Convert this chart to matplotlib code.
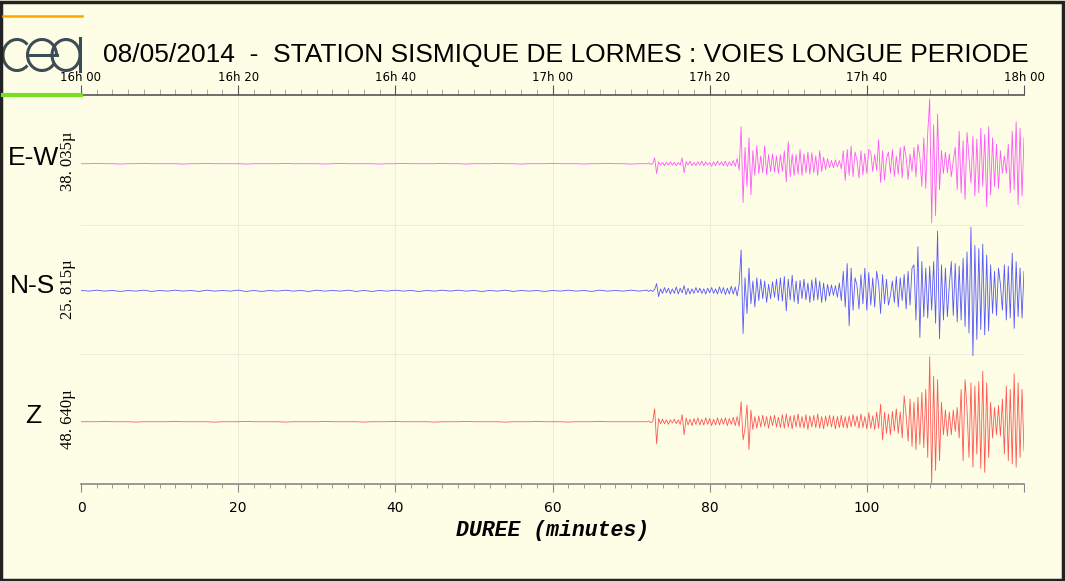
import numpy as np
import matplotlib.pyplot as plt
from matplotlib.patches import Arc, Rectangle

# seismogram amplitudes, in % of half the channel height
# quiet part: one value per minute from 0 to 71 min
quiet_ew = [0, 0, 0.5, 0, 0, -0.5, 0, 0, 0.5, 0, 0, 0,
            0, -0.5, 0, 0, 0.5, 0, 0, 0, 0, -0.5, 0, 0,
            0, 0, 0.5, 0, 0, 0, 0, -0.5, 0, 0.5, 0, 0,
            0, 0, -0.5, 0, 0, 0.5, 0, 0, 0, 0, 0.5, 0,
            0, -0.5, 0, 0, 0, 0.5, 0, 0, -0.5, 0, 0, 0,
            0.5, 0, 0, 0, -0.5, 0, 0, 0.5, 0, 0, -0.5, 0]
quiet_ns = [0.5, -0.5, 1, -0.5, 0.5, -1, 0.5, -0.5, 1, -1, 0.5, -0.5,
            1, -0.5, 0.5, -1, 1, -0.5, 0.5, -0.5, 1, -1, 0.5, -1,
            0.5, -0.5, 1, -0.5, 0.5, -1, 1, -0.5, 0.5, -0.5, 1, -1,
            0.5, -1, 0.5, -0.5, 1, -0.5, 0.5, -1, 0.5, -0.5, 1, -0.5,
            1, -0.5, 0.5, -1, 0.5, -0.5, 1, -1, 0.5, -0.5, 0.5, -1,
            0.5, -0.5, 1, -0.5, 0.5, -1, 1, -0.5, 0.5, -0.5, 1, -0.5]
quiet_z = [0, 0, 0, 0.5, 0, 0, 0, -0.5, 0, 0, 0, 0,
           0.5, 0, 0, 0, 0, -0.5, 0, 0, 0, 0.5, 0, 0,
           0, 0, -0.5, 0, 0, 0, 0, 0.5, 0, 0, 0, 0,
           -0.5, 0, 0, 0, 0.5, 0, 0, 0, 0, -0.5, 0, 0,
           0, 0.5, 0, 0, 0, 0, -0.5, 0, 0, 0, 0.5, 0,
           0, 0, -0.5, 0, 0, 0, 0.5, 0, 0, 0, 0, 0]

# active part: every 15 s from 72 to 120 min (one row = 2 minutes)
active_ew = [0, 1, -1, 0, 9, -15, 3, -2,
             2, -3, 2, -2, 3, -2, 2, -3,
             2, -2, 9, -14, 3, -2, 4, -3,
             2, -3, 3, -2, 4, -3, 3, -2,
             2, -4, 3, -3, 4, -2, 3, -3,
             4, -4, 3, -3, 5, -4, 8, -10,
             57, -60, 25, -35, 40, -48, 20, -18,
             28, -15, 12, -14, 28, -17, 14, -12,
             15, -13, 12, -15, 14, -12, 20, -28,
             34, -20, 15, -18, 14, -16, 22, -18,
             15, -14, 18, -16, 17, -14, 12, -18,
             20, -12, 10, -9, 8, -6, 5, -6,
             6, -5, 5, -8, 20, -26, 22, -18,
             27, -20, 18, 5, -22, 20, -17, 16,
             -15, 22, 18, -12, 14, -10, 37, -29,
             20, -25, 8, 18, -15, 22, -20, 12,
             -16, 25, -22, 28, 10, -24, 15, -12,
             25, -20, 30, 10, -35, 40, -38, 48,
             100, -91, 60, -80, 77, -40, 20, -15,
             18, -14, 15, -20, 5, 25, -40, 50,
             -45, 35, -55, 48, 10, -30, 42, -50,
             38, -45, 55, -35, 45, -66, 57, -48,
             40, -35, 30, -38, 20, -15, 12, -15,
             30, -45, 50, -40, 65, -63, 55, -50,
             40]
active_ns = [1, -1, 1, -1, 2, 11, -9, 3,
             -4, 5, -3, 4, -5, 3, -4, 6,
             -5, 4, -3, 8, -6, 4, -5, 3,
             -4, 5, -3, 4, -4, 3, -5, 4,
             -3, 5, -4, 3, -5, 6, -4, 5,
             -6, 4, -5, 7, -5, 6, -8, 10,
             63, -66, 20, -35, 35, -20, 15, -25,
             20, -15, 18, -12, 15, -18, 10, -12,
             14, -10, 18, -15, 20, -16, 22, -31,
             18, -14, 24, -17, 15, -20, 16, -12,
             18, -14, 12, -18, 17, -15, 20, -14,
             15, -18, 12, -16, 10, -8, 9, -7,
             8, -10, 12, -15, 30, -25, 42, -54,
             35, -30, 20, 8, -28, 25, -20, 35,
             -30, 28, -22, 20, -25, 30, 12, -35,
             25, -20, 18, -22, -8, 15, -18, 22,
             -25, 20, -15, 25, -28, 30, -22, 35,
             40, -45, 68, -72, 45, -40, 35, -42,
             38, -30, 45, -50, 92, -74, 40, -45,
             35, -40, 10, 45, -38, 42, -48, 38,
             -45, 50, -55, 60, -65, 98, -100, 70,
             -75, 65, -60, 72, -68, 55, -62, 40,
             -35, 30, -38, 35, 10, -30, 40, -45,
             38, -42, 58, -58, 45, -40, 35, -42,
             30]
active_z = [0, 1, -1, 0, 20, -34, 5, -3,
            4, -3, 3, -4, 3, -2, 4, -3,
            3, -4, 11, -20, 6, -5, 4, -6,
            5, -4, 6, -5, 4, -5, 6, -4,
            5, -6, 4, -5, 6, -5, 5, -4,
            6, -6, 5, -4, 7, -6, 8, -7,
            31, -28, -10, 26, -43, 18, -12, 8,
            -10, 9, -8, 10, -7, 8, -10, 9,
            -6, 10, -8, 7, -9, 11, -10, 12,
            -8, 9, -11, 10, -8, 12, -9, 8,
            -10, 11, -12, 9, -8, 10, -9, 12,
            -10, 8, -11, 9, -7, 10, -8, 9,
            -11, 8, -9, 10, -9, 8, -10, 9,
            -8, 11, -7, 9, -10, 12, -9, 8,
            -11, 14, -10, 9, -12, 15, -10, 27,
            -28, 15, -18, 12, -20, 16, -14, 20,
            -18, 15, -25, 40, 10, -30, 35, -38,
            30, -43, 38, -35, 45, -40, 50, -55,
            100, -96, 70, -75, 65, -60, 30, -20,
            18, -22, 15, -20, 18, -15, 22, -25,
            50, -60, 65, 20, -55, 60, -70, 55,
            -50, 62, -72, 78, -78, 60, -55, 30,
            -25, 22, -20, 25, -22, 35, -50, 55,
            -60, 50, -65, 74, -70, 60, -55, 50,
            -45]

channels = ['E-W', 'N-S', 'Z']
scales = ['38. 035µ', '25. 815µ', '48. 640µ']
colors = ['#ff45ff', '#4545ff', '#ff4545']
offsets = [2.47, 1.49, 0.48]

hour_ticks = list(range(0, 121, 20))
hour_labels = [f'{16 + m // 60}h {m % 60:02d}' for m in hour_ticks]
minute_labels = [str(m) for m in hour_ticks[:-1]] + ['']

bg = '#fefee6'
fig = plt.figure(figsize=(10.65, 5.81), dpi=100, facecolor=bg)
ax = fig.add_axes([81 / 1065, 97 / 581, 943 / 1065, 389 / 581])
ax.set_facecolor(bg)

quiet_t = np.arange(len(quiet_ew)) * 1.0
for q, a, off, col in zip([quiet_ew, quiet_ns, quiet_z],
                          [active_ew, active_ns, active_z], offsets, colors):
    t = np.concatenate([quiet_t, 72 + 0.25 * np.arange(len(a))])
    v = np.concatenate([q, a]) / 100 * 0.5
    ax.plot(t, off + v, color=col, lw=0.6, alpha=0.9)

ax.set_xlim(0, 120)
ax.set_ylim(0, 3)
for y in (1, 2):
    ax.axhline(y, color='#ececdc', lw=0.8, zorder=0)
for x in hour_ticks[1:-1]:
    ax.axvline(x, color='#ececdc', lw=0.8, zorder=0)

for s in ['left', 'right', 'top']:
    ax.spines[s].set_visible(False)
ax.spines['bottom'].set_color('#888888')
ax.spines['bottom'].set_linewidth(1.2)
ax.set_yticks([])
ax.set_xticks(hour_ticks, labels=minute_labels)
ax.set_xticks(np.arange(0, 121, 2), minor=True)
ax.tick_params(axis='x', which='major', length=6, color='#888888', labelsize=10, pad=6)
ax.tick_params(axis='x', which='minor', length=3, color='#888888')
ax.set_xlabel('DUREE (minutes)', family='Liberation Mono', fontsize=15.5,
              fontweight='bold', style='italic', labelpad=4)

top = ax.secondary_xaxis('top')
top.set_xticks(hour_ticks, labels=hour_labels)
top.set_xticks(np.arange(0, 121, 2), minor=True)
top.spines['top'].set_color('#555555')
top.spines['top'].set_linewidth(1.2)
top.tick_params(axis='x', which='major', length=7, color='#555555', labelsize=8.5, pad=1)
top.tick_params(axis='x', which='minor', length=4, color='#999999')

# channel names and scale labels
for name, sc, y_px in zip(channels, scales, [158, 286, 416]):
    fig.text(33 / 1065, 1 - y_px / 581, name, fontsize=19, family='Liberation Sans',
             ha='center', va='center')
    fig.text(68 / 1065, 1 - (y_px + 3) / 581, sc, fontsize=12, family='Liberation Serif',
             rotation=90, ha='center', va='center')

fig.text(103 / 1065, 1 - 55 / 581,
         '08/05/2014  -  STATION SISMIQUE DE LORMES : VOIES LONGUE PERIODE',
         fontsize=19, family='Liberation Sans', ha='left', va='center')

# logo and frame, in pixel coordinates
deco = fig.add_axes([0, 0, 1, 1], facecolor='none')
deco.set_xlim(0, 1065)
deco.set_ylim(0, 581)
deco.axis('off')
logo = '#3d4d55'
deco.add_patch(Arc((17, 526), 28, 31, theta1=45, theta2=315, color=logo, lw=2.2))
deco.add_patch(Arc((42, 526), 29, 31, theta1=0, theta2=325, color=logo, lw=2.2))
deco.plot([28, 56.5], [526, 526], color=logo, lw=2.2)
deco.add_patch(Arc((66, 526), 28, 31, color=logo, lw=2.2))
deco.plot([80, 80], [510, 543], color=logo, lw=2.2)
deco.plot([3, 82], [565, 565], color='#ffa500', lw=1.8)
deco.plot([3, 81], [486, 486], color='#77e022', lw=3)
deco.add_patch(Rectangle((1, 1), 1062, 578, fill=False, edgecolor='#222222', lw=2.5))

fig.savefig('out.png', dpi=100, facecolor=bg)
